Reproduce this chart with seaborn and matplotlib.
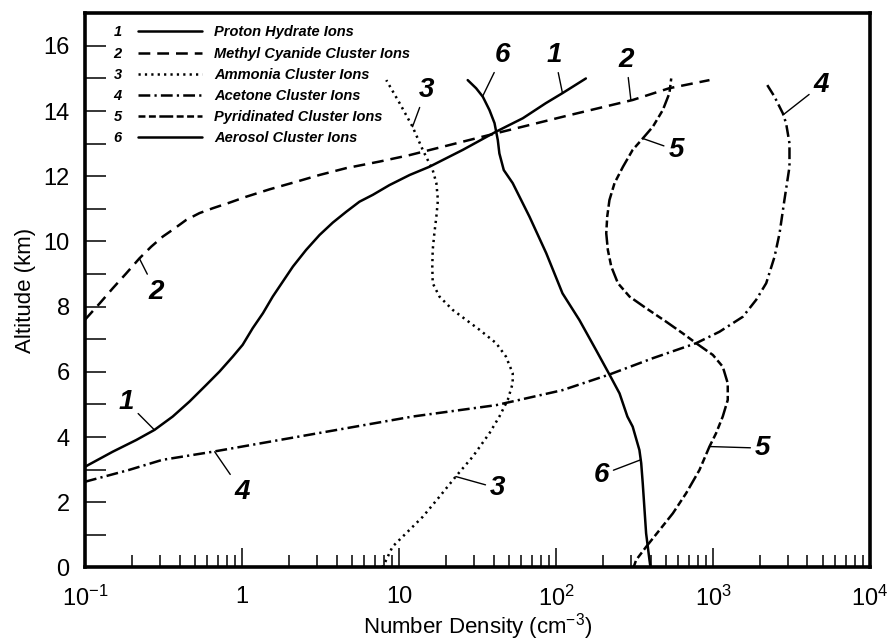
import matplotlib
matplotlib.use("Agg")
import numpy as np
import pandas as pd
import seaborn as sns
import matplotlib.pyplot as plt
from matplotlib.lines import Line2D
from matplotlib.ticker import FixedLocator, LogLocator, NullFormatter

# ---------------- data ----------------
series_names = [
    "Proton Hydrate Ions",
    "Methyl Cyanide Cluster Ions",
    "Ammonia Cluster Ions",
    "Acetone Cluster Ions",
    "Pyridinated Cluster Ions",
    "Aerosol Cluster Ions",
]

proton_alt = [3.09, 3.55, 3.91, 4.22, 4.63, 5.09, 5.60, 6.01, 6.47, 6.83, 7.34, 7.80,
              8.31, 8.77, 9.23, 9.74, 10.2, 10.58, 10.91, 11.22, 11.43, 11.73, 12.04,
              12.29, 12.81, 13.37, 13.78, 14.24, 14.55, 15.0]
proton_density = [0.1, 0.150, 0.212, 0.277, 0.362, 0.463, 0.592, 0.719, 0.874, 1.01,
                  1.17, 1.36, 1.57, 1.82, 2.11, 2.56, 3.12, 3.79, 4.61, 5.6, 6.81, 8.7,
                  11.7, 15.6, 25.5, 41.6, 61.5, 86, 110, 155]

methyl_alt = [7.6, 8.10, 8.56, 9.02, 9.48, 9.84, 10.15, 10.40, 10.66, 10.87, 11.02,
              11.19, 11.37, 11.60, 11.83, 12.04, 12.25, 12.45, 12.65, 13.32, 13.85,
              14.34, 14.7, 14.95]
methyl_density = [0.1, 0.124, 0.150, 0.183, 0.222, 0.264, 0.313, 0.372, 0.441, 0.536,
                  0.652, 0.832, 1.06, 1.50, 2.21, 3.12, 4.61, 7.5, 11.7, 41.6, 116,
                  308, 526, 950]

ammonia_alt = [0.0, 0.13, 0.64, 1.05, 1.56, 2.17, 2.79, 3.40, 4.12, 4.63, 5.14, 5.65,
               5.96, 6.47, 6.88, 7.29, 7.90, 8.31, 8.72, 9.23, 9.74, 10.25, 10.76,
               11.27, 11.79, 12.19, 12.8, 13.52, 14.24, 14.95]
ammonia_density = [7.8, 8.1, 9.1, 11.1, 14.2, 18.1, 23, 29.5, 37.7, 43.6, 49.3, 53,
                   53, 48, 41.6, 32.6, 22, 18.1, 16.4, 16.3, 16.4, 16.8, 17.3,
                   17.7, 17.3, 16.4, 14.2, 12.2, 10.1, 8.3]

acetone_alt = [2.63, 2.99, 3.30, 3.55, 3.91, 4.27, 4.63, 4.98, 5.44, 5.92, 6.42, 6.88,
               7.23, 7.69, 8.21, 8.72, 9.53, 10.25, 11.27, 12.29, 13.01, 13.62, 13.93,
               14.44, 14.85]
acetone_density = [0.1, 0.19, 0.31, 0.65, 1.73, 4.6, 12.2, 41.6, 110, 219, 414, 781,
                   1099, 1549, 1884, 2183, 2466, 2655, 2851, 3071, 3071, 2924, 2786,
                   2466, 2183]

pyridinated_alt = [0.0, 0.23, 0.64, 1.15, 1.66, 2.28, 2.99, 3.71, 4.12, 4.63, 5.14,
                   5.65, 6.16, 6.52, 6.88, 7.18, 7.54, 7.95, 8.31, 8.72, 9.23, 9.74,
                   10.25, 10.76, 11.27, 11.79, 12.29, 12.81, 13.16, 13.52, 14.03,
                   14.55, 15.0]
pyridinated_density = [312, 324, 376, 457, 555, 675, 820, 950, 1047, 1154, 1242,
                       1242, 1154, 998, 781, 643, 503, 376, 294, 248, 225, 214,
                       209, 212, 219, 236, 267, 308, 357, 414, 479,
                       528, 542]

aerosol_alt = [0.0, 0.23, 1.05, 2.58, 3.2, 3.6, 4.32, 4.63, 5.34, 5.92, 6.67, 7.59,
               8.41, 9.64, 10.76, 11.79, 12.19, 12.70, 13.11, 13.63, 14.03, 14.44,
               14.7, 14.95]
aerosol_density = [400, 394, 375, 357, 349, 340, 308, 285, 254, 219, 180, 141,
                   110, 86.7, 67.8, 53, 46.5, 43.6, 42.6, 40.6, 37.7, 34.2,
                   31, 27.4]

series_alt = [proton_alt, methyl_alt, ammonia_alt, acetone_alt, pyridinated_alt, aerosol_alt]
series_density = [proton_density, methyl_density, ammonia_density, acetone_density,
                  pyridinated_density, aerosol_density]

x_tick_values = [0.1, 1, 10, 100, 1000, 10000]
x_tick_labels = ["10$^{-1}$", "1", "10", "10$^{2}$", "10$^{3}$", "10$^{4}$"]
y_tick_values = [0, 2, 4, 6, 8, 10, 12, 14, 16]
y_minor_values = [1, 3, 5, 7, 9, 11, 13, 15]

# ---------------- styling ----------------
line_styles = [
    "-",
    (0, (8.5, 5)),
    (0, (1.6, 3.0)),
    (0, (8.5, 3, 1.6, 3)),
    (0, (5, 2.5, 5, 2.5, 10, 2.5)),
    "-",
]

# curve labels: (text, label x, label y, curve x, curve y)
curve_labels = [
    ("1", 0.183, 5.09, 0.277, 4.22),
    ("1", 98, 15.72, 110, 14.55),
    ("2", 280, 15.57, 300, 14.34),
    ("2", 0.284, 8.46, 0.222, 9.48),
    ("3", 14.9, 14.65, 12.2, 13.52),
    ("3", 42.6, 2.43, 23, 2.79),
    ("4", 4887, 14.8, 2790, 13.88),
    ("4", 1.0, 2.33, 0.67, 3.55),
    ("5", 583, 12.8, 357, 13.16),
    ("5", 2075, 3.66, 950, 3.71),
    ("6", 45.8, 15.72, 34, 14.44),
    ("6", 194, 2.84, 345, 3.3),
]

sns.set_style("ticks")
plt.rcParams["font.family"] = ["Liberation Sans", "DejaVu Sans"]
plt.rcParams["mathtext.fontset"] = "custom"
plt.rcParams["mathtext.rm"] = "Liberation Sans"
plt.rcParams["mathtext.it"] = "Liberation Sans:italic"
plt.rcParams["mathtext.bf"] = "Liberation Sans:bold"
plt.rcParams["lines.scale_dashes"] = False
for k in ["text.color", "axes.labelcolor", "xtick.color", "ytick.color", "axes.edgecolor"]:
    plt.rcParams[k] = "black"

fig = plt.figure(figsize=(8.89, 6.44), dpi=100)
ax = fig.add_axes([0.0956, 0.1188, 0.883, 0.8606])

for name, alt, dens, ls in zip(series_names, series_alt, series_density, line_styles):
    df = pd.DataFrame({"density": dens, "altitude": alt})
    sns.lineplot(data=df, x="density", y="altitude", sort=False, estimator=None,
                 color="black", linewidth=1.8, linestyle=ls, ax=ax)

ax.set_xscale("log")
ax.set_xlim(0.1, 1e4)
ax.set_ylim(0, 17)

ax.xaxis.set_major_locator(FixedLocator(x_tick_values))
ax.set_xticklabels(x_tick_labels)
ax.xaxis.set_minor_locator(LogLocator(base=10, subs=np.arange(2, 10)))
ax.xaxis.set_minor_formatter(NullFormatter())
ax.yaxis.set_major_locator(FixedLocator(y_tick_values))
ax.yaxis.set_minor_locator(FixedLocator(y_minor_values))

ax.tick_params(axis="both", which="both", direction="in", top=False, right=False,
               colors="black", labelsize=17, width=1.1)
ax.tick_params(axis="x", which="major", length=14, pad=13)
ax.tick_params(axis="x", which="minor", length=8.5)
ax.tick_params(axis="y", which="major", length=15, pad=11)
ax.tick_params(axis="y", which="minor", length=15)

for sp in ax.spines.values():
    sp.set_visible(True)
    sp.set_linewidth(2.6)
    sp.set_color("black")

ax.set_xlabel("Number Density (cm$^{-3}$)", fontsize=16, labelpad=0)
ax.set_ylabel("Altitude (km)", fontsize=16, labelpad=5)

for txt, tx, ty, px, py in curve_labels:
    ax.annotate(txt, xy=(px, py), xytext=(tx, ty), textcoords="data",
                ha="center", va="center", fontsize=20, fontweight="bold",
                fontstyle="italic",
                arrowprops=dict(arrowstyle="-", lw=1.0, color="black",
                                shrinkA=1, shrinkB=0))

handles = [Line2D([0], [0], color="black", lw=1.8, linestyle=ls) for ls in line_styles]
leg = ax.legend(handles, series_names, loc="upper left", bbox_to_anchor=(0.0669, 0.978),
                frameon=False, borderpad=0, borderaxespad=0, handlelength=4.4,
                handletextpad=0.85, labelspacing=0.49,
                prop=dict(family="Liberation Sans", weight="bold", style="italic", size=10.5))

fig.canvas.draw()
inv = ax.transAxes.inverted()
for i, t in enumerate(leg.get_texts()):
    bb = t.get_window_extent()
    yc = inv.transform(((bb.x0 + bb.x1) / 2, (bb.y0 + bb.y1) / 2))[1]
    ax.text(0.0414, yc, str(i + 1), transform=ax.transAxes, ha="center", va="center",
            fontsize=10.5, fontweight="bold", fontstyle="italic")

fig.savefig("out.png", dpi=100)
